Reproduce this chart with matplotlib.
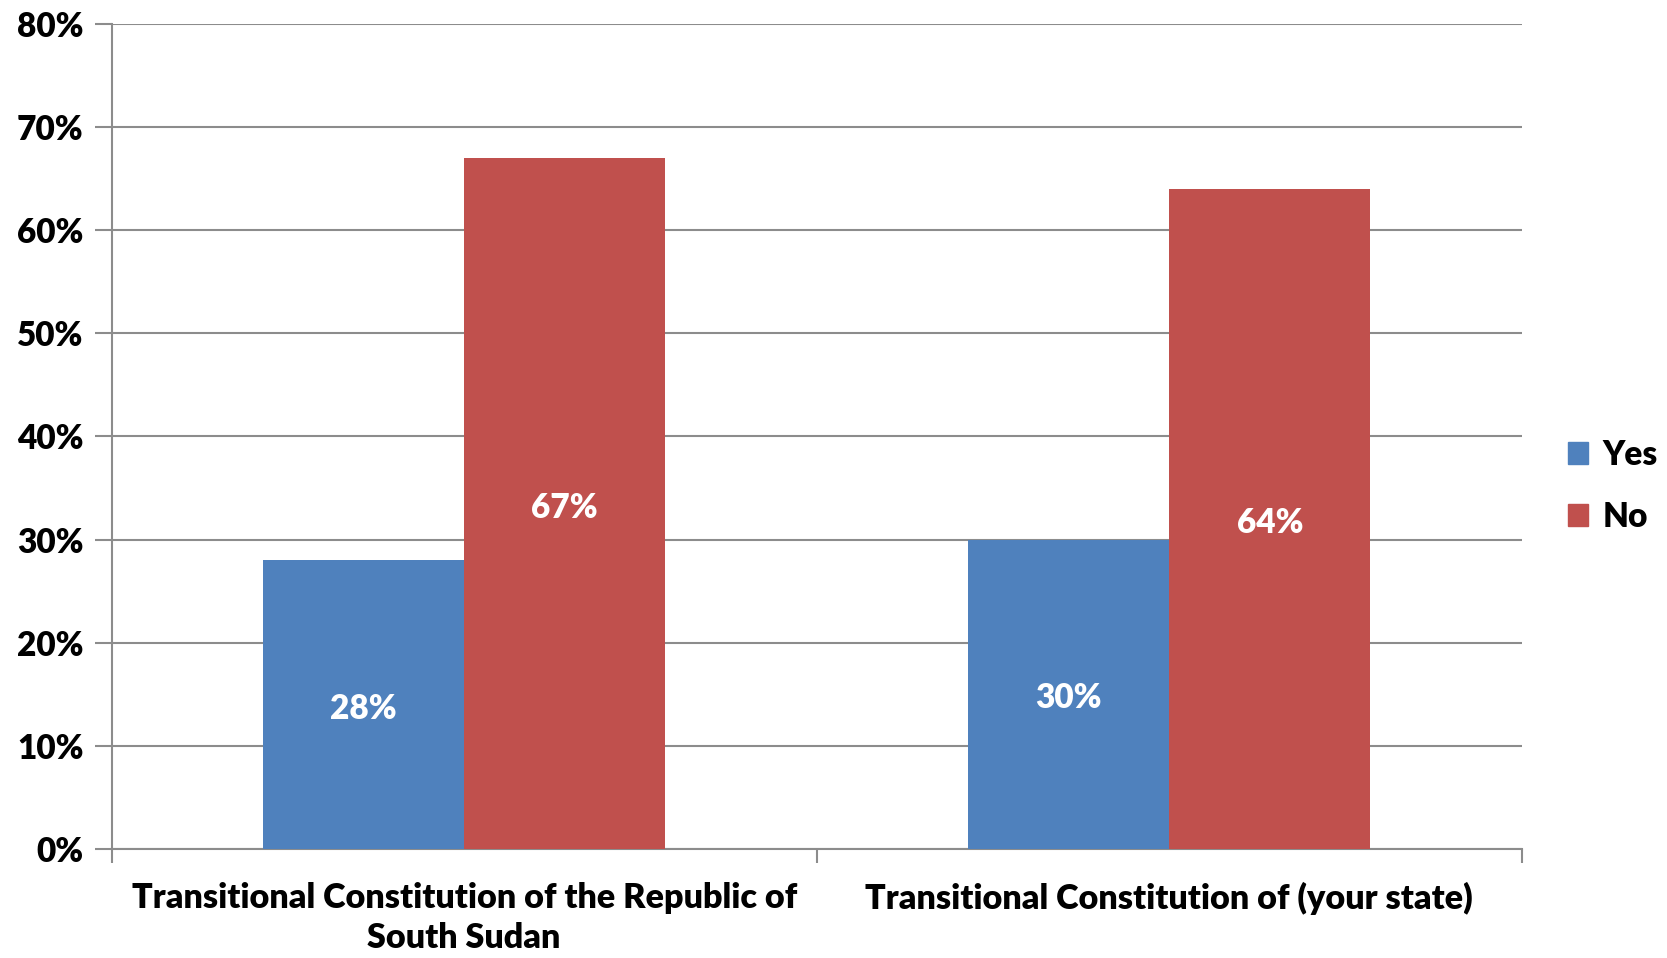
import numpy as np
import matplotlib
matplotlib.use("Agg")
from matplotlib import pyplot as plt
from matplotlib.patches import Patch
from matplotlib.ticker import MultipleLocator, FuncFormatter

categories = [
    "Transitional Constitution of the Republic of\nSouth Sudan",
    "Transitional Constitution of (your state)",
]
yes_values = [28, 30]
no_values = [67, 64]
series_names = ["Yes", "No"]
colors = ["#4F81BD", "#C0504D"]

plt.rcParams["font.family"] = ["Lato", "DejaVu Sans"]
plt.rcParams["font.weight"] = "heavy"
FS = 24

fig = plt.figure(figsize=(16.67, 9.58), dpi=100)
ax = fig.add_axes([0.0669, 0.1138, 0.8461, 0.8612])

x = np.arange(len(categories))
w = 0.285
bars_yes = ax.bar(x - w / 2, yes_values, w, color=colors[0], zorder=3)
bars_no = ax.bar(x + w / 2, no_values, w, color=colors[1], zorder=3)

for bars, vals in [(bars_yes, yes_values), (bars_no, no_values)]:
    for b, v in zip(bars, vals):
        ax.text(b.get_x() + b.get_width() / 2, v / 2 - 0.4, f"{v}%",
                ha="center", va="center", color="white",
                fontsize=FS, fontweight="heavy", zorder=4)

ax.set_xlim(-0.5, len(categories) - 0.5)
ax.set_ylim(0, 80)
ax.yaxis.set_major_locator(MultipleLocator(10))
ax.yaxis.set_major_formatter(FuncFormatter(lambda v, p: f"{int(v)}%"))
ax.grid(axis="y", color="#8c8c8c", linewidth=1.5, zorder=0)

# category separators as x ticks at group boundaries
ax.set_xticks([-0.5, 0.5, 1.5])
ax.set_xticklabels([])
ax.tick_params(axis="x", length=10, width=1.5, color="#8c8c8c")
ax.tick_params(axis="y", length=12, width=1.5, color="#8c8c8c",
               labelsize=FS, pad=8)
for lbl in ax.get_yticklabels():
    lbl.set_fontweight("heavy")
for i, c in enumerate(categories):
    ax.text(i, -3.2, c, ha="center", va="top", fontsize=24.6,
            fontweight="heavy", linespacing=1.3)

for side in ["top", "right"]:
    ax.spines[side].set_visible(False)
for side in ["left", "bottom"]:
    ax.spines[side].set_color("#8c8c8c")
    ax.spines[side].set_linewidth(1.5)

handles = [Patch(color=c, label=n) for c, n in zip(colors, series_names)]
fig.legend(handles=handles, loc="center left", bbox_to_anchor=(0.9405, 0.493),
           frameon=False, handlelength=0.6, handleheight=0.6,
           handletextpad=0.45, labelspacing=0.9,
           borderaxespad=0, borderpad=0,
           prop={"weight": "heavy", "size": FS})

fig.savefig("out.png", dpi=100, facecolor="white")
